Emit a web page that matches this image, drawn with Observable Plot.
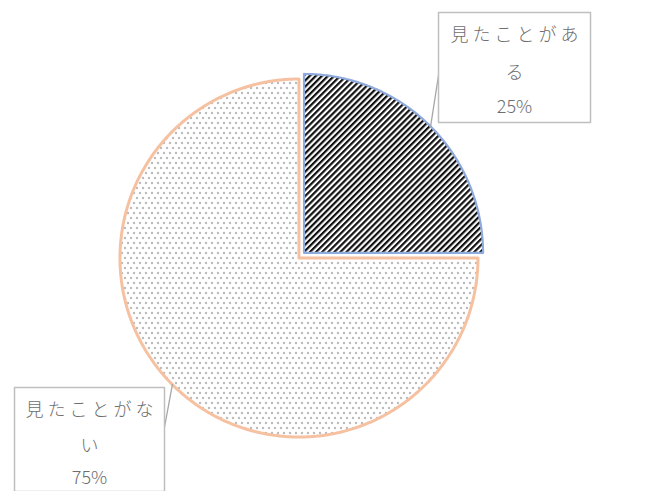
<!DOCTYPE html>
<html>
<head>
<meta charset="utf-8">
<script src="https://cdn.jsdelivr.net/npm/d3@7"></script>
<script src="https://cdn.jsdelivr.net/npm/@observablehq/plot@0.6"></script>
<style>
  html, body { margin: 0; padding: 0; background: #fff; }
</style>
</head>
<body>
<div id="chart"></div>
<script>
// ---- data ----
const categories = ["見たことがある", "見たことがない"];
const values = [25, 75];
const percentLabels = ["25%", "75%"];
// label text split into lines as in the reference
const labelLines = [["見たことがあ", "る"], ["見たことがな", "い"]];

// ---- layout (pixels) ----
const W = 648, H = 491;
const CX = 301, CY = 255, R = 179;
const EXPLODE = 0.02;
const fills = ["url(#hatch)", "url(#dots)"];
const strokes = ["#8faadc", "#f6c1a0"];
// label boxes, pixel offsets relative to the pie centre
const boxes = [
  {cx: 213, top: -243, w: 152, h: 110, line0: -220, gap: [0, 38, 72], leader: [137, -180]},
  {cx: -212, top: 132, w: 150, h: 120, line0: 155, gap: [0, 36, 68], leader: [-138, 177]}
];

const pie = d3.pie().sort(null).value(d => d)(values);
const u = p => p / R; // pixels -> pie units

const slices = pie.map((p, i) => {
  const mid = (p.startAngle + p.endAngle) / 2;
  const ox = EXPLODE * Math.sin(mid), oy = EXPLODE * Math.cos(mid);
  const n = Math.max(8, Math.ceil((p.endAngle - p.startAngle) / 0.01));
  const ring = [[ox, oy]];
  for (let k = 0; k <= n; k++) {
    const a = p.startAngle + (p.endAngle - p.startAngle) * k / n;
    ring.push([ox + Math.sin(a), oy + Math.cos(a)]);
  }
  ring.push([ox, oy]);
  return {
    type: "Feature",
    properties: {i, name: categories[i], mid, anchor: [ox + Math.sin(mid), oy + Math.cos(mid)]},
    geometry: {type: "Polygon", coordinates: [ring.reverse()]}
  };
});

const boxFeatures = boxes.map((b, i) => {
  const x0 = u(b.cx - b.w / 2), x1 = u(b.cx + b.w / 2);
  const y0 = -u(b.top), y1 = -u(b.top + b.h);
  return {type: "Feature", properties: {i},
    geometry: {type: "Polygon", coordinates: [[[x0, y0], [x0, y1], [x1, y1], [x1, y0], [x0, y0]]]}};
});

const leaders = boxes.map((b, i) => ({
  type: "Feature", properties: {i},
  geometry: {type: "LineString", coordinates: [slices[i].properties.anchor, [u(b.leader[0]), -u(b.leader[1])]]}
}));

const textRows = [];
boxes.forEach((b, i) => {
  const lines = [...labelLines[i], percentLabels[i]];
  lines.forEach((t, k) => textRows.push({x: u(b.cx), y: -u(b.line0 + b.gap[k]), text: t, jp: k < lines.length - 1}));
});

const plot = Plot.plot({
  width: W, height: H,
  margin: 0,
  projection: {
    type: "reflect-y",
    domain: {type: "MultiPoint", coordinates: [[-1, -1], [1, 1]]},
    insetLeft: CX - R, insetRight: W - (CX + R),
    insetTop: CY - R, insetBottom: H - (CY + R)
  },
  style: {fontFamily: "'Noto Sans CJK JP', 'Noto Sans', sans-serif", background: "#fff"},
  marks: [
    Plot.geo([slices[1]], {fill: fills[1], stroke: strokes[1], strokeWidth: 3}),
    Plot.geo([slices[0]], {fill: fills[0], stroke: strokes[0], strokeWidth: 2.2}),
    Plot.geo(leaders, {stroke: "#a6a6a6", strokeWidth: 1.3}),
    Plot.geo(boxFeatures, {fill: "white", stroke: "#bfbfbf", strokeWidth: 1.5}),
    Plot.text(textRows, {x: "x", y: "y", text: "text", fontSize: 18, fontWeight: 300, fill: "#6e6e6e", lineAnchor: "middle", textAnchor: "middle"})
  ]
});

// patterns
const svg = d3.select(plot);
const defs = svg.insert("defs", ":first-child");
const hatch = defs.append("pattern").attr("id", "hatch").attr("patternUnits", "userSpaceOnUse")
  .attr("width", 4.3).attr("height", 10).attr("patternTransform", "rotate(45)");
hatch.append("rect").attr("width", 4.3).attr("height", 10).attr("fill", "white");
hatch.append("rect").attr("width", 2.2).attr("height", 10).attr("fill", "#111");
const dots = defs.append("pattern").attr("id", "dots").attr("patternUnits", "userSpaceOnUse")
  .attr("width", 6).attr("height", 10);
dots.append("rect").attr("width", 6).attr("height", 10).attr("fill", "white");
dots.append("circle").attr("cx", 1.5).attr("cy", 2.5).attr("r", 0.7).attr("fill", "#222");
dots.append("circle").attr("cx", 4.5).attr("cy", 7.5).attr("r", 0.7).attr("fill", "#222");

// letter spacing for the Japanese lines
svg.selectAll("text").filter(function() { return /[^\x00-\x7f]/.test(this.textContent); })
  .attr("letter-spacing", 4).attr("dx", 2);

document.getElementById("chart").appendChild(plot);
</script>
</body>
</html>
